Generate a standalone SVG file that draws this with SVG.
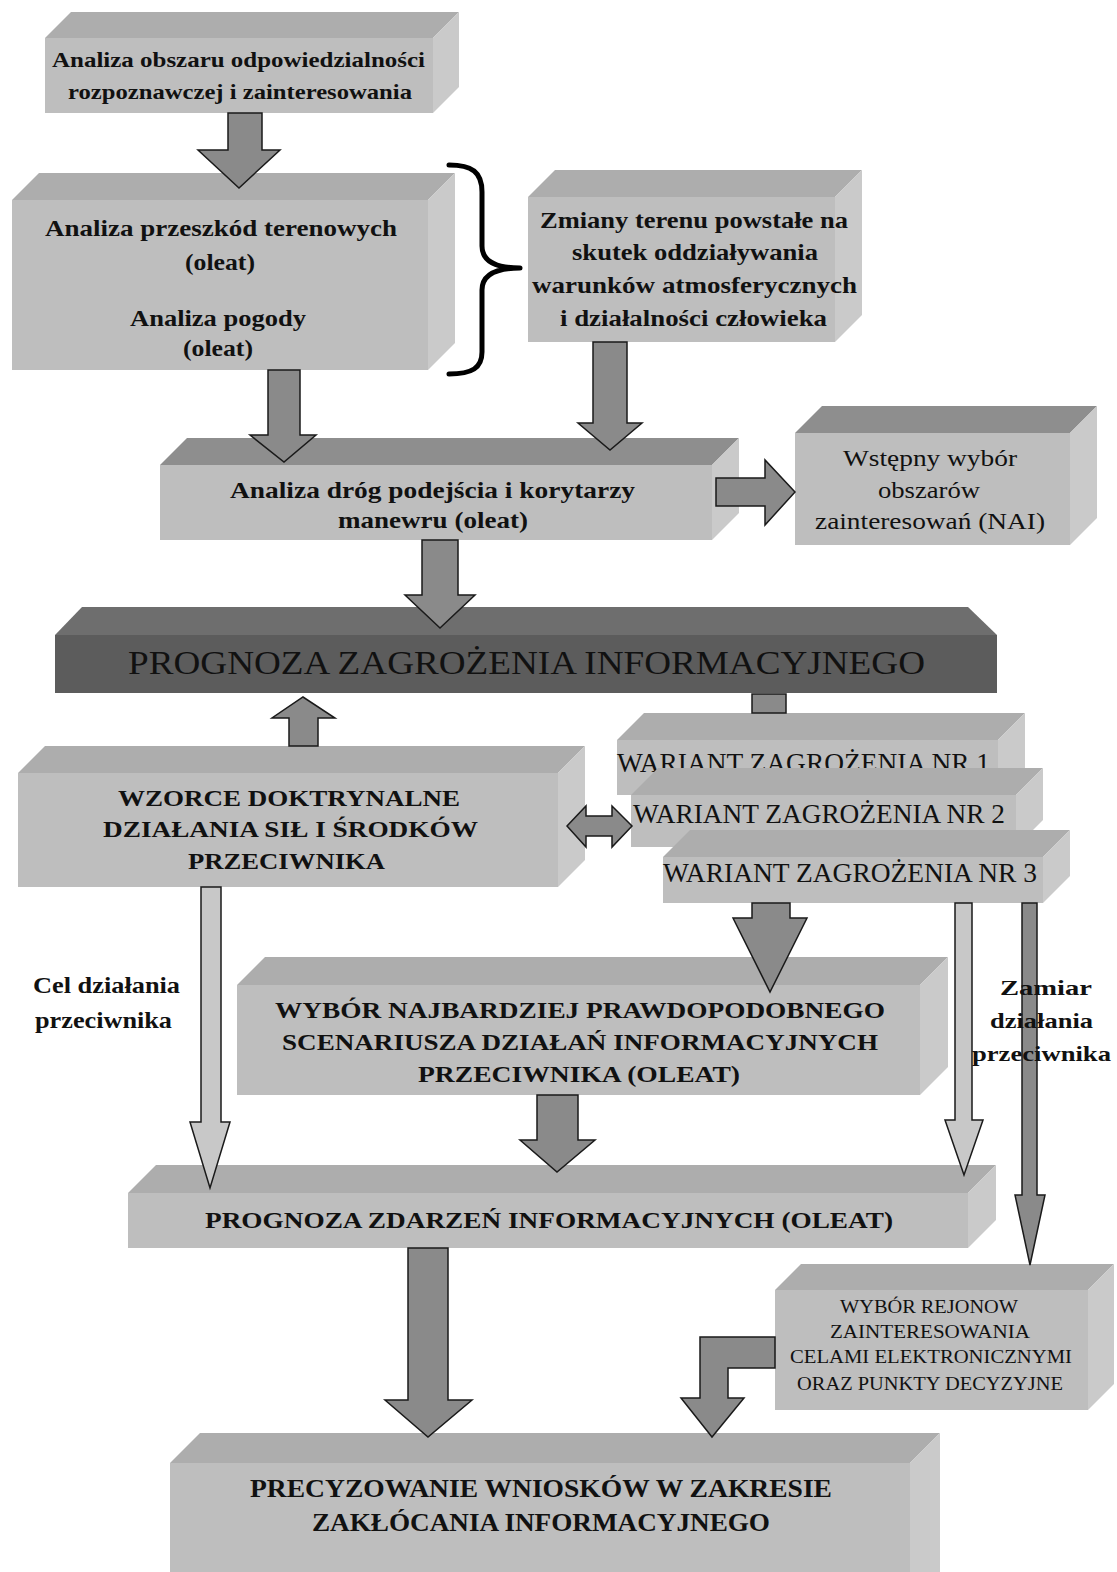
<svg xmlns="http://www.w3.org/2000/svg" width="1117" height="1572" viewBox="0 0 1117 1572">
<style>
.f{fill:#bebebe}
.t{fill:#adadad}
.td{fill:#8e8e8e}
.s{fill:#cacaca}
.tx{font-family:"Liberation Serif","Times New Roman",serif;fill:#111}
.b{font-weight:bold}
.ar{fill:#8a8a8a;stroke:#1a1a1a;stroke-width:1.5;stroke-linejoin:miter}
.al{fill:#c8c8c8;stroke:#1a1a1a;stroke-width:1.5}
.brace{fill:none;stroke:#000;stroke-width:5;stroke-linecap:round;stroke-linejoin:round}
</style>
<rect width="1117" height="1572" fill="#fff"/>

<g id="n1">
<polygon class="t" points="45,38 71,12 459,12 433,38"/>
<polygon class="s" points="433,38 459,12 459,87 433,113"/>
<rect class="f" x="45" y="38" width="388" height="75"/>
<text class="tx b" font-size="22" x="52" y="67" textLength="373" lengthAdjust="spacingAndGlyphs">Analiza obszaru odpowiedzialności</text>
<text class="tx b" font-size="22" x="68" y="99" textLength="344" lengthAdjust="spacingAndGlyphs">rozpoznawczej i zainteresowania</text>
</g>

<g id="n2">
<polygon class="t" points="12,200 39,173 455,173 428,200"/>
<polygon class="s" points="428,200 455,173 455,343 428,370"/>
<rect class="f" x="12" y="200" width="416" height="170"/>
<text class="tx b" font-size="24" x="45" y="236" textLength="352" lengthAdjust="spacingAndGlyphs">Analiza przeszkód terenowych</text>
<text class="tx b" font-size="24" x="185" y="270" textLength="70" lengthAdjust="spacingAndGlyphs">(oleat)</text>
<text class="tx b" font-size="24" x="130" y="326" textLength="176" lengthAdjust="spacingAndGlyphs">Analiza pogody</text>
<text class="tx b" font-size="24" x="183" y="356" textLength="70" lengthAdjust="spacingAndGlyphs">(oleat)</text>
</g>

<g id="brace">
<path class="brace" d="M449,165 C472,165 482,172 482,192 L482,246 C482,260 494,268 520,268 C494,268 482,276 482,290 L482,352 C482,368 472,374 449,374"/>
</g>

<g id="n3">
<polygon class="t" points="528,197 555,170 862,170 835,197"/>
<polygon class="s" points="835,197 862,170 862,315 835,342"/>
<rect class="f" x="528" y="197" width="307" height="145"/>
<text class="tx b" font-size="23" x="540" y="228" textLength="308" lengthAdjust="spacingAndGlyphs">Zmiany terenu powstałe na</text>
<text class="tx b" font-size="23" x="572" y="260" textLength="246" lengthAdjust="spacingAndGlyphs">skutek oddziaływania</text>
<text class="tx b" font-size="23" x="532" y="293" textLength="325" lengthAdjust="spacingAndGlyphs">warunków atmosferycznych</text>
<text class="tx b" font-size="23" x="560" y="326" textLength="267" lengthAdjust="spacingAndGlyphs">i działalności człowieka</text>
</g>

<g id="n4">
<polygon class="td" points="160,465 187,438 739,438 712,465"/>
<polygon class="s" points="712,465 739,438 739,513 712,540"/>
<rect class="f" x="160" y="465" width="552" height="75" fill="#b6b6b6"/>
<text class="tx b" font-size="23" x="230" y="498" textLength="405" lengthAdjust="spacingAndGlyphs">Analiza dróg podejścia i korytarzy</text>
<text class="tx b" font-size="23" x="338" y="528" textLength="190" lengthAdjust="spacingAndGlyphs">manewru (oleat)</text>
</g>

<g id="n5">
<polygon class="td" points="795,433 822,406 1097,406 1070,433"/>
<polygon class="s" points="1070,433 1097,406 1097,518 1070,545"/>
<rect class="f" x="795" y="433" width="275" height="112"/>
<text class="tx" font-size="24" x="843" y="466" textLength="174" lengthAdjust="spacingAndGlyphs">Wstępny wybór</text>
<text class="tx" font-size="24" x="878" y="498" textLength="102" lengthAdjust="spacingAndGlyphs">obszarów</text>
<text class="tx" font-size="24" x="815" y="529" textLength="230" lengthAdjust="spacingAndGlyphs">zainteresowań (NAI)</text>
</g>

<g id="n6">
<polygon fill="#6e6e6e" points="55,635 82,607 968,607 997,635"/>
<rect x="55" y="635" width="942" height="58" fill="#5c5c5c"/>
<text class="tx" font-size="34" x="128" y="674" textLength="797" lengthAdjust="spacingAndGlyphs" fill="#0a0a0a">PROGNOZA  ZAGROŻENIA  INFORMACYJNEGO</text>
</g>

<g id="n7">
<polygon class="t" points="18,773 45,746 585,746 558,773"/>
<polygon class="s" points="558,773 585,746 585,860 558,887"/>
<rect class="f" x="18" y="773" width="540" height="114"/>
<text class="tx b" font-size="24" x="118" y="806" textLength="342" lengthAdjust="spacingAndGlyphs">WZORCE DOKTRYNALNE</text>
<text class="tx b" font-size="24" x="103" y="837" textLength="375" lengthAdjust="spacingAndGlyphs">DZIAŁANIA SIŁ I ŚRODKÓW</text>
<text class="tx b" font-size="24" x="188" y="869" textLength="197" lengthAdjust="spacingAndGlyphs">PRZECIWNIKA</text>
</g>

<g id="n8">
<polygon class="t" points="617,740 644,713 1025,713 998,740"/>
<polygon class="s" points="998,740 1025,713 1025,768 998,795"/>
<rect class="f" x="617" y="740" width="381" height="55"/>
<text class="tx" font-size="27" x="617" y="772" textLength="373" lengthAdjust="spacingAndGlyphs">WARIANT ZAGROŻENIA NR 1</text>
</g>

<g id="n9">
<polygon class="t" points="631,795 658,768 1043,768 1016,795"/>
<polygon class="s" points="1016,795 1043,768 1043,820 1016,847"/>
<rect class="f" x="631" y="795" width="385" height="52"/>
<text class="tx" font-size="27" x="633" y="823" textLength="372" lengthAdjust="spacingAndGlyphs">WARIANT ZAGROŻENIA NR 2</text>
</g>

<g id="n10">
<polygon class="t" points="663,857 690,830 1070,830 1043,857"/>
<polygon class="s" points="1043,857 1070,830 1070,876 1043,903"/>
<rect class="f" x="663" y="857" width="380" height="46"/>
<text class="tx" font-size="27" x="663" y="882" textLength="374" lengthAdjust="spacingAndGlyphs">WARIANT ZAGROŻENIA NR 3</text>
</g>

<g id="n11">
<polygon class="t" points="237,985 265,957 948,957 920,985"/>
<polygon class="s" points="920,985 948,957 948,1067 920,1095"/>
<rect class="f" x="237" y="985" width="683" height="110" fill="#c2c2c2"/>
<text class="tx b" font-size="24" x="275" y="1018" textLength="610" lengthAdjust="spacingAndGlyphs">WYBÓR NAJBARDZIEJ PRAWDOPODOBNEGO</text>
<text class="tx b" font-size="24" x="282" y="1050" textLength="596" lengthAdjust="spacingAndGlyphs">SCENARIUSZA DZIAŁAŃ INFORMACYJNYCH</text>
<text class="tx b" font-size="24" x="418" y="1082" textLength="322" lengthAdjust="spacingAndGlyphs">PRZECIWNIKA (OLEAT)</text>
</g>

<g id="n12">
<polygon class="t" points="128,1193 156,1165 996,1165 968,1193"/>
<polygon class="s" points="968,1193 996,1165 996,1220 968,1248"/>
<rect class="f" x="128" y="1193" width="840" height="55"/>
<text class="tx b" font-size="24" x="205" y="1228" textLength="688" lengthAdjust="spacingAndGlyphs">PROGNOZA ZDARZEŃ INFORMACYJNYCH (OLEAT)</text>
</g>

<g id="n13">
<polygon class="t" points="775,1290 801,1264 1114,1264 1088,1290"/>
<polygon class="s" points="1088,1290 1114,1264 1114,1384 1088,1410"/>
<rect class="f" x="775" y="1290" width="313" height="120"/>
<text class="tx" font-size="18" x="840" y="1313" textLength="178" lengthAdjust="spacingAndGlyphs">WYBÓR REJONOW</text>
<text class="tx" font-size="18" x="830" y="1338" textLength="200" lengthAdjust="spacingAndGlyphs">ZAINTERESOWANIA</text>
<text class="tx" font-size="18" x="790" y="1363" textLength="282" lengthAdjust="spacingAndGlyphs">CELAMI ELEKTRONICZNYMI</text>
<text class="tx" font-size="18" x="797" y="1390" textLength="266" lengthAdjust="spacingAndGlyphs">ORAZ PUNKTY DECYZYJNE</text>
</g>

<g id="n14">
<polygon class="t" points="170,1463 200,1433 940,1433 910,1463"/>
<polygon class="s" points="910,1463 940,1433 940,1572 910,1572"/>
<rect class="f" x="170" y="1463" width="740" height="115"/>
<text class="tx b" font-size="25" x="250" y="1497" textLength="582" lengthAdjust="spacingAndGlyphs">PRECYZOWANIE WNIOSKÓW W ZAKRESIE</text>
<text class="tx b" font-size="25" x="312" y="1531" textLength="458" lengthAdjust="spacingAndGlyphs">ZAKŁÓCANIA INFORMACYJNEGO</text>
</g>

<g id="connectors">
<polygon class="ar" points="228,113 262,113 262,150 280,150 239,188 198,150 228,150"/>
<polygon class="ar" points="268,370 300,370 300,435 316,435 284,462 250,435 268,435"/>
<polygon class="ar" points="593,342 627,342 627,423 642,423 610,450 578,423 593,423"/>
<polygon class="ar" points="716,478 765,478 765,460 795,492 765,525 765,506 716,506"/>
<polygon class="ar" points="422,540 458,540 458,595 475,595 440,628 405,595 422,595"/>
<polygon class="ar" points="289,746 318,746 318,718 335,718 303,697 272,718 289,718"/>
<rect class="ar" x="752" y="694" width="34" height="19"/>
<polygon class="ar" points="567,826 586,806 586,816 612,816 612,806 632,826 612,847 612,836 586,836 586,847"/>
<polygon class="ar" points="752,903 790,903 790,918 807,918 770,992 733,918 752,918"/>
<polygon class="al" points="201,887 221,887 221,1122 230,1122 210,1188 190,1122 201,1122"/>
<polygon class="al" points="955,903 972,903 972,1120 983,1120 964,1175 945,1120 955,1120"/>
<polygon class="ar" points="1022,903 1037,903 1037,1195 1045,1195 1030,1265 1015,1195 1022,1195"/>
<polygon class="ar" points="537,1095 578,1095 578,1140 595,1140 557,1172 520,1140 537,1140"/>
<polygon class="ar" points="408,1248 448,1248 448,1400 472,1400 428,1437 385,1400 408,1400"/>
<polygon class="ar" points="775,1337 700,1337 700,1398 681,1398 712,1437 744,1398 728,1398 728,1368 775,1368"/>
</g>

<g id="label-cel">
<text class="tx b" font-size="23" x="33" y="993" textLength="147" lengthAdjust="spacingAndGlyphs">Cel działania</text>
<text class="tx b" font-size="23" x="35" y="1028" textLength="137" lengthAdjust="spacingAndGlyphs">przeciwnika</text>
</g>
<g id="label-zamiar">
<text class="tx b" font-size="22" x="1000" y="995" textLength="92" lengthAdjust="spacingAndGlyphs">Zamiar</text>
<text class="tx b" font-size="22" x="990" y="1028" textLength="103" lengthAdjust="spacingAndGlyphs">działania</text>
<text class="tx b" font-size="22" x="972" y="1061" textLength="139" lengthAdjust="spacingAndGlyphs">przeciwnika</text>
</g>
</svg>
